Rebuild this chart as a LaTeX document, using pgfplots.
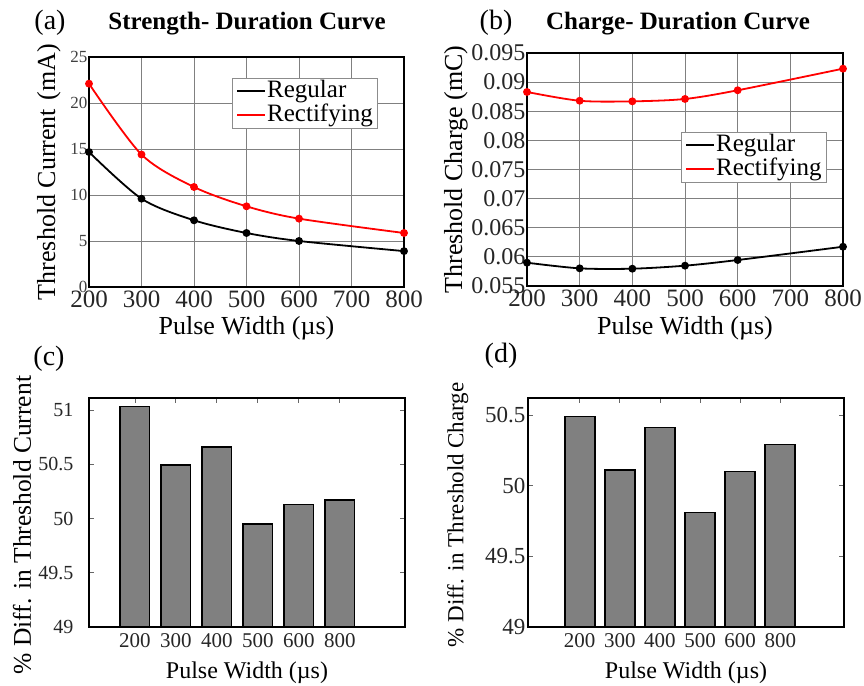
\documentclass[border=0pt]{standalone}
\usepackage{fontspec}
\setmainfont{Liberation Serif}
\usepackage{pgfplots}
\pgfplotsset{compat=1.18}

\definecolor{regcol}{RGB}{0,0,0}
\definecolor{reccol}{RGB}{255,0,0}
\definecolor{barfill}{RGB}{128,128,128}

\newcommand{\fs}[1]{\fontsize{#1}{#1}\selectfont}

\pgfplotsset{
  panel/.style={
    scale only axis,
    anchor=south west,
    /pgf/number format/assume math mode=true,
    axis line style={line width=2.2pt, black},
    label style={font=\fs{24}},
    xlabel={Pulse Width (µs)},
  },
  curvepanel/.style={
    panel,
    xmin=200, xmax=800,
    xtick={200,300,...,800},
    scaled y ticks=false,
    grid=major,
    major grid style={line width=0.9pt, black!50},
    tick style={draw=none},
    x tick label style={font=\fs{25}, text=black!85},
    xlabel style={font=\fs{26}},
    ylabel style={font=\fs{26}},
    legend cell align=left,
    legend style={draw=black!45, line width=0.8pt, font=\fs{25},
      inner xsep=4pt, inner ysep=1pt, row sep=0pt, fill=white,
      nodes={text height=17pt, text depth=5pt, inner sep=1pt}},
    legend image code/.code={\draw[#1, line width=1.8pt, mark=none] (0pt,0pt) -- (28pt,0pt);},
  },
  barpanel/.style={
    panel,
    ybar, bar shift=0pt,
    xtick={1,...,6},
    xticklabels={200,300,400,500,600,800},
    tick align=inside,
    major tick length=5pt,
    tick style={line width=0.8pt, black!60},
    xtick pos=right,
    xticklabel pos=left,
    ymin=49,
    x tick label style={font=\fs{21}, text=black!85, yshift=-3pt},
  },
  rline/.style={regcol, line width=1.8pt, smooth, mark=*, mark size=3pt},
  fline/.style={reccol, line width=1.8pt, smooth, mark=*, mark size=3pt},
  gbar/.style={fill=barfill, draw=black, line width=1.6pt},
}

\begin{document}
\begin{tikzpicture}[x=1pt,y=1pt]
\useasboundingbox (0,0) rectangle (864,685);

% (a) Strength-duration curve
\begin{axis}[curvepanel,
  at={(89pt,398pt)}, width=315pt, height=230pt,
  ymin=0, ymax=25, ytick={0,5,...,25},
  y tick label style={font=\fs{17}, text=black!75, xshift=2pt},
  ylabel={Threshold Current\,\,(mA)},
  xlabel style={at={(axis description cs:0.5,-0.178)}, anchor=center},
  ylabel style={at={(axis description cs:-0.127,0.5)}, anchor=center, rotate=0},
  title={\bfseries Strength- Duration Curve},
  title style={at={(axis description cs:0.502,1.117)}, anchor=center, font=\fs{25}},
  legend style={at={(0.454,0.909)}, anchor=north west},
]
\addplot[rline] coordinates {(200,14.67) (300,9.6) (400,7.25) (500,5.87) (600,5.0) (800,3.9)};
\addlegendentry{Regular}
\addplot[fline] coordinates {(200,22.1) (300,14.4) (400,10.87) (500,8.77) (600,7.43) (800,5.87)};
\addlegendentry{Rectifying}
\end{axis}

% (b) Charge-duration curve
\begin{axis}[curvepanel,
  at={(527pt,399pt)}, width=316pt, height=233pt,
  ymin=0.055, ymax=0.095,
  ytick={0.055,0.06,0.065,0.07,0.075,0.08,0.085,0.09,0.095},
  yticklabels={0.055,0.06,0.065,0.07,0.075,0.08,0.085,0.09,0.095},
  y tick label style={font=\fs{24}, text=black!85, xshift=2pt},
  ylabel={Threshold Charge (mC)},
  xlabel style={at={(axis description cs:0.5,-0.18)}, anchor=center},
  ylabel style={at={(axis description cs:-0.225,0.5)}, anchor=center, rotate=0},
  title={\bfseries Charge- Duration Curve},
  title style={at={(axis description cs:0.478,1.099)}, anchor=center, font=\fs{25}},
  legend style={at={(0.487,0.661)}, anchor=north west},
]
\addplot[rline] coordinates {(200,0.0590) (300,0.05803) (400,0.05797) (500,0.05849) (600,0.05946) (800,0.06174)};
\addlegendentry{Regular}
\addplot[fline] coordinates {(200,0.08831) (300,0.08680) (400,0.08670) (500,0.08711) (600,0.0886) (800,0.09231)};
\addlegendentry{Rectifying}
\end{axis}

% (c) Percentage difference in threshold current
\begin{axis}[barpanel,
  at={(89pt,58pt)}, width=316pt, height=229pt,
  xmin=-0.12, xmax=7.59, ymax=51.11,
  bar width=0.72,
  ytick={49,49.5,50,50.5,51},
  yticklabels={49,49.5,50,50.5,51},
  y tick label style={font=\fs{20}, text=black!85, xshift=-12pt},
  ylabel={\% Diff. in Threshold Current},
  xlabel style={at={(axis description cs:0.5,-0.20)}, anchor=center},
  ylabel style={at={(axis description cs:-0.212,0.445)}, anchor=center, rotate=0, font=\fs{25.5}},
]
\addplot[gbar] coordinates {(1,51.03) (2,50.49) (3,50.66) (4,49.95) (5,50.13) (6,50.17)};
\end{axis}

% (d) Percentage difference in threshold charge
\begin{axis}[barpanel,
  at={(528pt,58pt)}, width=316pt, height=229pt,
  xmin=-0.29, xmax=7.59, ymax=50.62,
  bar width=0.75,
  ytick={49,49.5,50,50.5},
  yticklabels={49,49.5,50,50.5},
  y tick label style={font=\fs{23}, text=black!85, xshift=1pt},
  ylabel={\% Diff. in Threshold Charge},
  xlabel style={at={(axis description cs:0.5,-0.20)}, anchor=center},
  ylabel style={at={(axis description cs:-0.222,0.49)}, anchor=center, rotate=0, font=\fs{23}},
]
\addplot[gbar] coordinates {(1,50.49) (2,50.11) (3,50.41) (4,49.81) (5,50.10) (6,50.29)};
\end{axis}

% panel letters
\node[font=\fs{28}] at (50,662) {(a)};
\node[font=\fs{28}] at (496,662) {(b)};
\node[font=\fs{28}] at (49,326) {(c)};
\node[font=\fs{28}] at (501,329) {(d)};
\end{tikzpicture}
\end{document}
